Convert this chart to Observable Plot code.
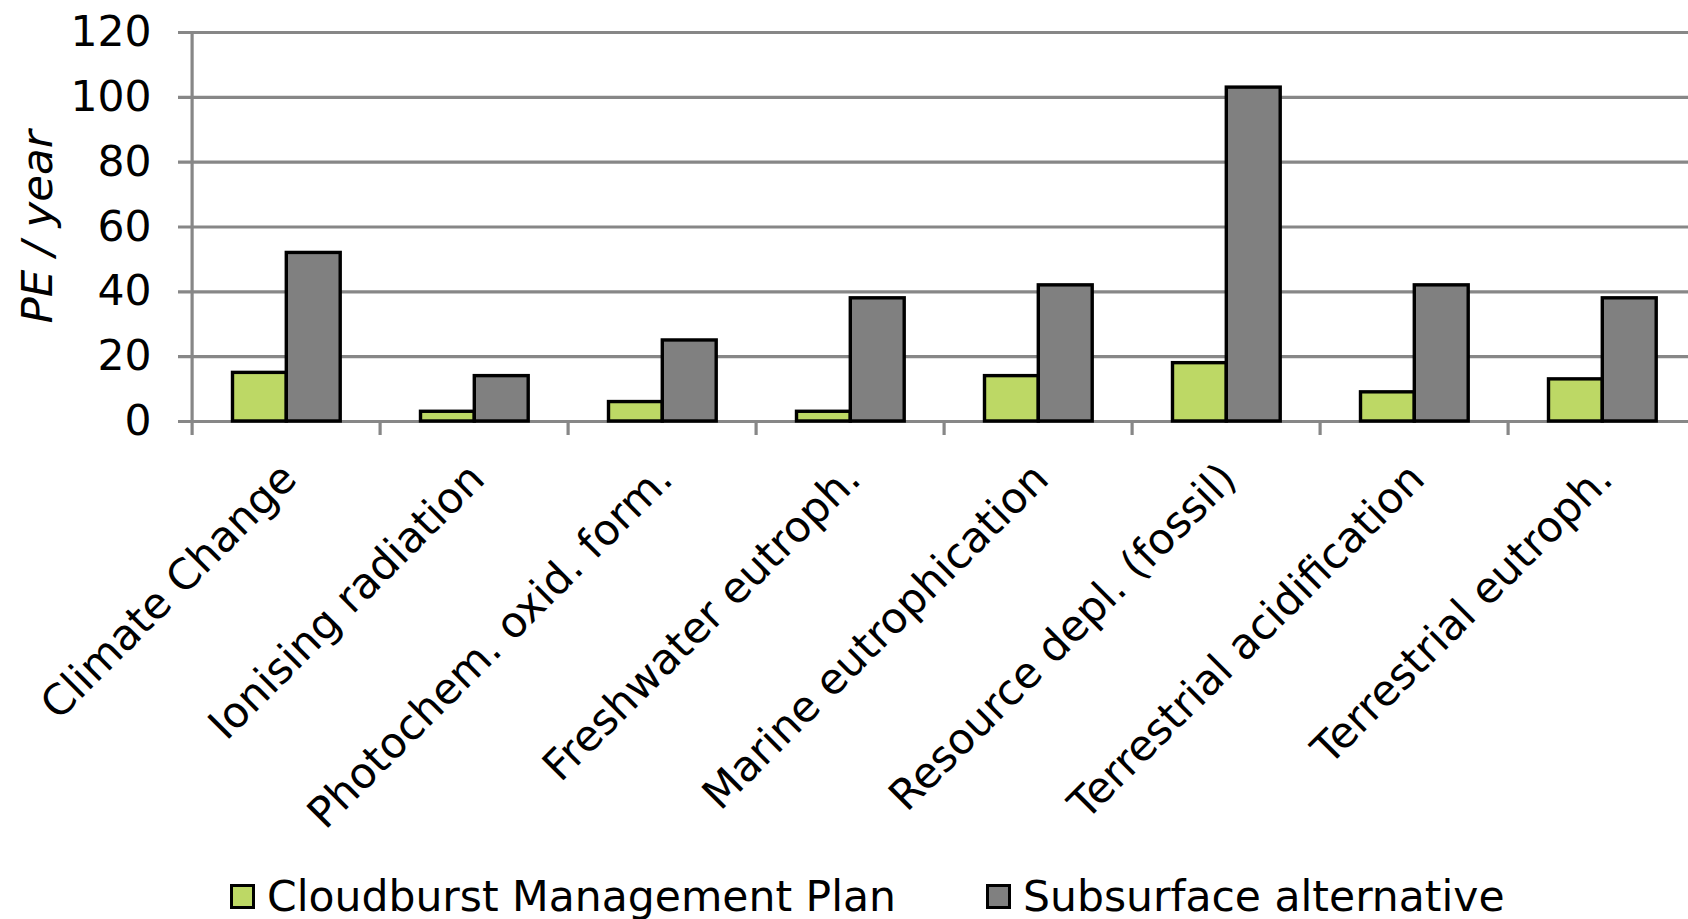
<!DOCTYPE html>
<html>
<head>
<meta charset="utf-8">
<script src="https://cdn.jsdelivr.net/npm/d3@7"></script>
<script src="https://cdn.jsdelivr.net/npm/@observablehq/plot@0.6"></script>
<style>
  html, body { margin: 0; padding: 0; background: #fff; overflow: hidden; }
  #chart { position: relative; width: 1688px; height: 919px; font-family: "DejaVu Sans", Verdana, sans-serif; }
  #chart svg { display: block; }
  .legend { position: absolute; left: 230px; top: 875px; display: flex; align-items: center;
            font-size: 42.5px; line-height: 43px; color: #000; white-space: nowrap; }
  .legend .item { display: flex; align-items: center; }
  .legend .item + .item { margin-left: 90px; }
  .legend .swatch { width: 19px; height: 19px; border: 3.5px solid #000; margin-right: 12px; }
</style>
</head>
<body>
<div id="chart"></div>
<script>
// Impact categories on the x axis
const categories = [
  "Climate Change",
  "Ionising radiation",
  "Photochem. oxid. form.",
  "Freshwater eutroph.",
  "Marine eutrophication",
  "Resource depl. (fossil)",
  "Terrestrial acidification",
  "Terrestrial eutroph."
];

// Person-equivalents per year for each scenario
const cloudburst = [15, 3, 6, 3, 14, 18, 9, 13];
const subsurface = [52, 14, 25, 38, 42, 103, 42, 38];

const seriesNames = ["Cloudburst Management Plan", "Subsurface alternative"];
const seriesColors = ["#bdd865", "#808080"];
const yTicks = [0, 20, 40, 60, 80, 100, 120];
const yLabel = "PE / year";

const width = 1688;
const height = 860;
const xStart = 191.6;     // left edge of the first category band
const band = 188;         // width of one category band
const gridColor = "#878787";
const gridWidth = 3.2;
const fontSize = 42.5;

const rows = categories.map((c, i) => ({category: c, cloudburst: cloudburst[i], subsurface: subsurface[i]}));

const barStyle = {stroke: "#000", strokeWidth: 3.4, strokeLinejoin: "miter"};

const chart = Plot.plot({
  width,
  height,
  marginLeft: 178,
  marginRight: 0,
  marginTop: 32,
  marginBottom: height - 421,
  style: {fontFamily: "'DejaVu Sans', Verdana, sans-serif", fontSize: `${fontSize}px`, color: "#000", background: "#fff"},
  x: {domain: categories, range: [xStart, xStart + band * categories.length], padding: 0, round: false},
  y: {domain: [0, 120]},
  marks: [
    // horizontal gridlines (they also form the y ticks and the baseline)
    Plot.gridY(yTicks, {stroke: gridColor, strokeOpacity: 1, strokeWidth: gridWidth}),
    // vertical axis line, extended below the baseline like a tick
    Plot.ruleX([categories[0]], {y1: 120, y2: 0, dx: -band / 2, insetBottom: -14, stroke: gridColor, strokeWidth: gridWidth}),
    // category boundary ticks below the baseline
    Plot.ruleX(categories.slice(1), {y1: 0, y2: 0, dx: -band / 2, insetBottom: -14, stroke: gridColor, strokeWidth: gridWidth}),
    // grouped bars
    Plot.barY(rows, {x: "category", y: "cloudburst", fill: seriesColors[0], insetLeft: 40.9, insetRight: 93.3, ...barStyle}),
    Plot.barY(rows, {x: "category", y: "subsurface", fill: seriesColors[1], insetLeft: 94.7, insetRight: 39.4, ...barStyle}),
    Plot.axisY(yTicks, {tickSize: 0, tickPadding: 27, fontSize, label: null, fill: "#000"}),
    Plot.axisX({tickSize: 0, tickPadding: 50, tickRotate: -45, fontSize, dx: 3, label: null, fill: "#000"}),
    Plot.text([yLabel], {frameAnchor: "left", dx: 38 - 178, rotate: -90, fontSize: 43.5, fontStyle: "italic", fill: "#000", textAnchor: "middle"})
  ]
});

const root = document.getElementById("chart");
root.appendChild(chart);

const legend = document.createElement("div");
legend.className = "legend";
seriesNames.forEach((name, i) => {
  const item = document.createElement("div");
  item.className = "item";
  const sw = document.createElement("span");
  sw.className = "swatch";
  sw.style.background = seriesColors[i];
  const label = document.createElement("span");
  label.textContent = name;
  item.appendChild(sw);
  item.appendChild(label);
  legend.appendChild(item);
});
root.appendChild(legend);
</script>
</body>
</html>
